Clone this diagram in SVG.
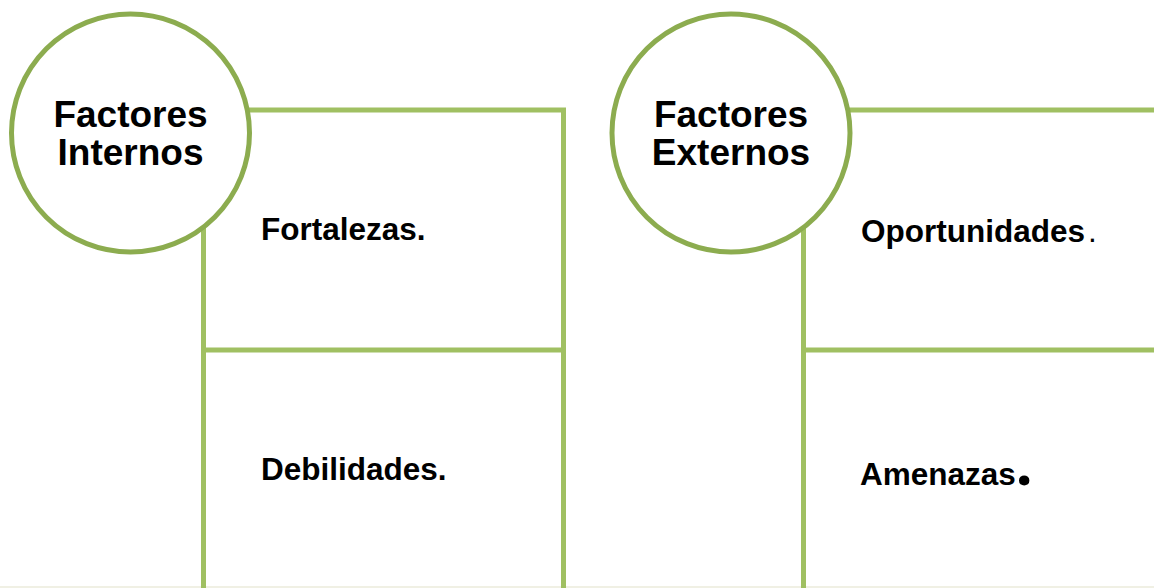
<svg xmlns="http://www.w3.org/2000/svg" width="1154" height="588" viewBox="0 0 1154 588">
<style>
.box{fill:none;stroke:#A0C062;stroke-width:5}
.circ{fill:#FFFFFF;stroke:#8CAC4F;stroke-width:5}
.title{font-family:"Liberation Sans",Arial,sans-serif;font-weight:bold;font-size:37px;fill:#000;text-anchor:middle}
.lbl{font-family:"Liberation Sans",Arial,sans-serif;font-weight:bold;font-size:31.5px;fill:#000}
</style>
<rect x="0" y="0" width="1154" height="588" fill="#FFFFFF"/>
<rect x="0" y="586" width="1154" height="2" fill="#F0F0E4"/>
<g id="connectors">
<path class="box" d="M203.5 600 V110 H563.5 V600"/>
<path class="box" d="M203.5 350 H563.5"/>
<path class="box" d="M803.5 600 V110 H1160"/>
<path class="box" d="M803.5 350 H1160"/>
</g>
<g id="factores-internos">
<circle class="circ" cx="130.5" cy="133" r="119"/>
<text class="title" x="130.5" y="127">Factores</text>
<text class="title" x="130.5" y="165">Internos</text>
</g>
<g id="factores-externos">
<circle class="circ" cx="731" cy="133" r="119"/>
<text class="title" x="731" y="127">Factores</text>
<text class="title" x="731" y="165">Externos</text>
</g>
<g id="fortalezas">
<text class="lbl" x="261" y="240">Fortalezas.</text>
</g>
<g id="debilidades">
<text class="lbl" x="261" y="480">Debilidades.</text>
</g>
<g id="oportunidades">
<text class="lbl" x="861" y="242">Oportunidades<tspan font-weight="normal" dx="3">.</tspan></text>
</g>
<g id="amenazas">
<text class="lbl" x="860" y="485">Amenazas<tspan font-family="'Noto Sans',sans-serif" font-size="60" dx="0">.</tspan></text>
</g>
</svg>
